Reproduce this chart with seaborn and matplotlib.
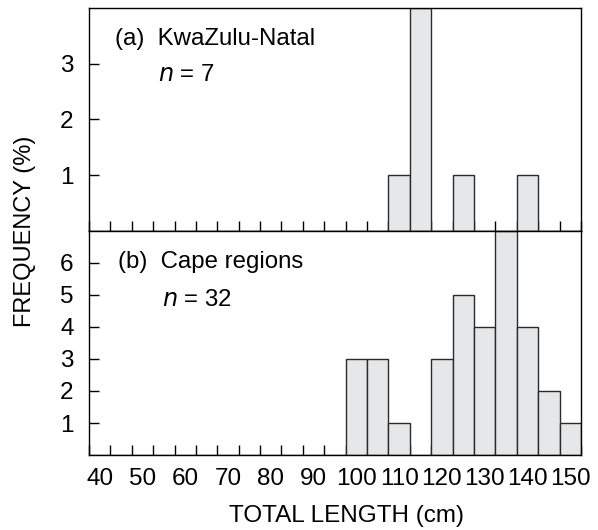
import numpy as np
import pandas as pd
import matplotlib
matplotlib.use("Agg")
import matplotlib.pyplot as plt
import seaborn as sns

# bin centres (cm) and counts
kzn_lengths = [110, 115, 125, 140]
kzn_counts = [1, 4, 1, 1]
cape_lengths = [100, 105, 110, 120, 125, 130, 135, 140, 145, 150]
cape_counts = [3, 3, 1, 3, 5, 4, 7, 4, 2, 1]
tick_labels = [40, 50, 60, 70, 80, 90, 100, 110, 120, 130, 140, 150]

sns.set_theme(style="ticks")
plt.rcParams["font.family"] = ["Liberation Sans", "DejaVu Sans"]
plt.rcParams["text.color"] = "black"
plt.rcParams["xtick.color"] = "black"
plt.rcParams["ytick.color"] = "black"

bin_edges = np.arange(37.5, 153, 5)
bar_kw = dict(color="#e6e7e9", edgecolor="#2b2b2b", linewidth=1.0, alpha=1)

fig = plt.figure(figsize=(5.98, 5.30), dpi=100)
ax_a = fig.add_axes([0.1488, 0.5642, 0.8227, 0.4207])
ax_b = fig.add_axes([0.1488, 0.1415, 0.8227, 0.4227])

df_a = pd.DataFrame({"length": kzn_lengths, "count": kzn_counts})
df_b = pd.DataFrame({"length": cape_lengths, "count": cape_counts})

sns.histplot(data=df_a, x="length", weights="count", binwidth=5, binrange=(37.5, 152.5), ax=ax_a, **bar_kw)
sns.histplot(data=df_b, x="length", weights="count", binwidth=5, binrange=(37.5, 152.5), ax=ax_b, **bar_kw)

for ax, ymax, yt in [(ax_a, 4, [1, 2, 3]), (ax_b, 7, [1, 2, 3, 4, 5, 6])]:
    ax.set_xlim(37.5, 152.5)
    ax.set_ylim(0, ymax)
    ax.set_yticks(yt)
    ax.set_xticks(tick_labels)
    ax.set_xticks(bin_edges, minor=True)
    ax.tick_params(axis="x", which="major", length=0, pad=9, labelsize=17.5, labelcolor="black")
    ax.tick_params(axis="x", which="minor", direction="in", length=7.5, width=1.0)
    ax.tick_params(axis="y", direction="in", length=7.5, width=1.0, pad=11, labelsize=17.5, labelcolor="black")
    ax.set_xlabel("")
    ax.set_ylabel("")
    for sp in ax.spines.values():
        sp.set_visible(True)
        sp.set_linewidth(1.0)
        sp.set_color("black")

ax_a.tick_params(axis="x", which="major", labelbottom=False)

txt = dict(fontsize=17.3, va="center", color="black")
ax_a.text(0.053, 0.86, "(a)  KwaZulu-Natal", transform=ax_a.transAxes, **txt)
ax_a.text(0.14, 0.70, "$\\it{n}$ = 7", transform=ax_a.transAxes, **txt)
ax_b.text(0.058, 0.86, "(b)  Cape regions", transform=ax_b.transAxes, **txt)
ax_b.text(0.148, 0.69, "$\\it{n}$ = 32", transform=ax_b.transAxes, **txt)

fig.text(0.042, 0.563, "FREQUENCY (%)", rotation=90, ha="center", va="center", fontsize=17, color="black")
fig.text(0.579, 0.026, "TOTAL LENGTH (cm)", ha="center", va="center", fontsize=17.5, color="black")

fig.savefig("out.png", dpi=100)
